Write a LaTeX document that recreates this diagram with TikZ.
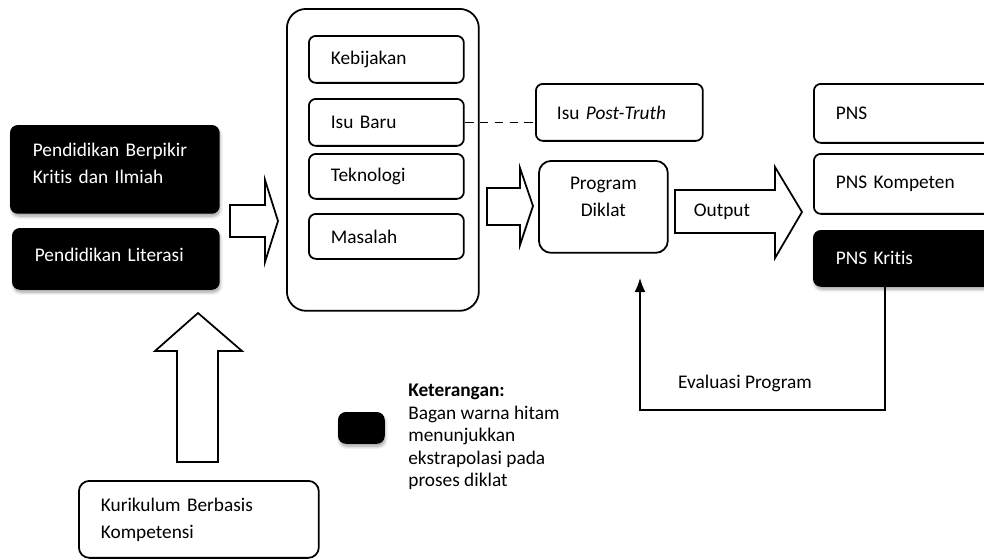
\documentclass[tikz,border=0pt]{standalone}
\usepackage{fontspec}
\setmainfont{Carlito}[Ligatures=NoCommon]
\usetikzlibrary{arrows.meta}
\usetikzlibrary{calc,shadows.blur,positioning}

\tikzset{
  kotak/.style={draw, line width=1pt, rounded corners=4pt, anchor=north west, align=left,
    inner xsep=0.44cm, font=\fontsize{11}{15.4}\selectfont},
  hitam/.style={kotak, fill=black, text=white,
    blur shadow={shadow xshift=0.6pt, shadow yshift=-1.8pt, shadow blur steps=6}},
  panah/.style={draw, line width=1pt, fill=white, line join=miter},
  teks/.style={font=\fontsize{11}{15.4}\selectfont}
}

\begin{document}
\begin{tikzpicture}[x=0.02cm, y=-0.02cm]
    \useasboundingbox (0,0) rectangle (984,559);

    % bagan kiri
    \node [hitam, text width=3.28cm, text depth=0.78cm, minimum height=1.74cm] (kritis) at (10,125) {Pendidikan Berpikir\\Kritis dan Ilmiah};
    \node [hitam, text width=3.24cm, text depth=0.16cm, minimum height=1.2cm] (literasi) at (12,228) {Pendidikan Literasi};
    \node [kotak, rounded corners=6pt, text width=3.92cm, minimum height=1.54cm] (kbk) at (78,480) {Kurikulum Berbasis\\Kompetensi};

    % wadah faktor
    \node [kotak, rounded corners=11pt, minimum width=3.84cm, minimum height=6.04cm] (faktor) at (286,8) {};
    \node [kotak, text width=2.22cm, minimum height=0.94cm] (kebijakan) at (308,35) {Kebijakan};
    \node [kotak, text width=2.22cm, minimum height=0.94cm] (isubaru) at (308,98) {Isu Baru};
    \node [kotak, text width=2.22cm, minimum height=0.9cm] (teknologi) at (308,153) {Teknologi};
    \node [kotak, text width=2.22cm, minimum height=0.9cm] (masalah) at (308,213) {Masalah};

    % tengah
    \node [kotak, inner xsep=0.42cm, text width=2.5cm, minimum height=1.14cm] (postruth) at (535,83) {Isu \textit{Post-Truth}};
    \node [kotak, align=center, rounded corners=7pt, minimum width=2.58cm, minimum height=1.84cm] (diklat) at (538,160) {Program\\Diklat\\[-0.15cm]};

    % hasil
    \node [kotak, text width=2.92cm, minimum height=1.18cm] (pns) at (813,83) {PNS};
    \node [kotak, text width=2.92cm, minimum height=1.2cm] (pnskompeten) at (813,153) {PNS Kompeten};
    \node [hitam, text width=2.92cm, minimum height=1.1cm] (pnskritis) at (813,230) {PNS Kritis};

    % panah blok
    \draw [panah] (230,205) -- (265,205) -- (265,180) -- (278,221) -- (265,262) -- (265,237) -- (230,237) -- cycle;
    \draw [panah] (487,188) -- (520,188) -- (520,168) -- (533,206) -- (520,245) -- (520,225) -- (487,225) -- cycle;
    \draw [panah] (675,190) -- (775,190) -- (775,167) -- (802,212) -- (775,258) -- (775,233) -- (675,233) -- cycle;
    \draw [panah] (177,462) -- (177,351) -- (155,351) -- (198,313) -- (242,351) -- (218,351) -- (218,462) -- cycle;
    \node [teks] (output) at (722,212) {Output};

    \draw [dash pattern=on 5pt off 3.5pt, line width=1pt] (isubaru.east) -- (isubaru.east -| postruth.west);

    % evaluasi
    \coordinate (balik) at (885,410);
    \coordinate (ujung) at (640,278);
    \draw [-{Latex[length=0.28cm, width=0.22cm]}, line width=0.9pt] (pnskritis.south -| balik) -- (balik) -| (ujung);
    \node [teks] (evaluasi) at (745,383) {Evaluasi Program};

    % keterangan
    \node [hitam, rounded corners=4pt, minimum width=0.9cm, minimum height=0.6cm, inner sep=0pt] (contoh) at (338,412) {};
    \node [anchor=north west, align=left, inner sep=0pt, font=\fontsize{11}{12.8}\selectfont] (ket) at (408,384)
      {\textbf{Keterangan:}\\Bagan warna hitam\\menunjukkan\\ekstrapolasi pada\\proses diklat};
\end{tikzpicture}
\end{document}
